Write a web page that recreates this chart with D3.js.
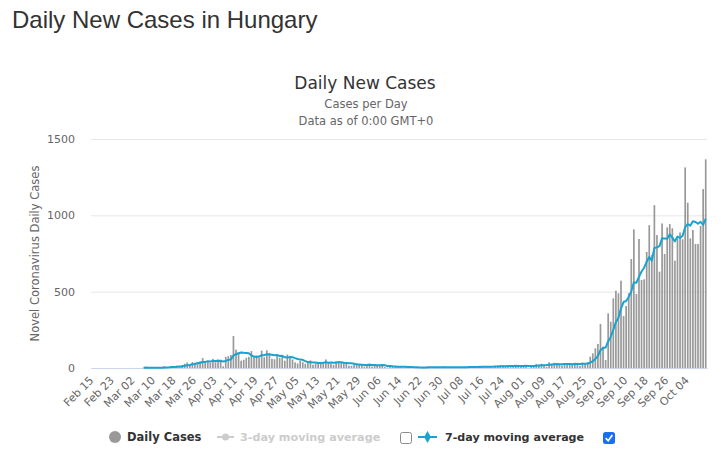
<!DOCTYPE html>
<html><head><meta charset="utf-8">
<script src="https://cdn.jsdelivr.net/npm/d3@7"></script>
<style>
html,body{margin:0;padding:0;background:#fff;}
svg{display:block;}
</style></head>
<body>
<svg id="chart" width="724" height="457"></svg>
<script>
// ---------- DATA ----------
const startDate = "2020-02-15";
const tickLabels = ["Feb 15","Feb 23","Mar 02","Mar 10","Mar 18","Mar 26","Apr 03","Apr 11","Apr 19","Apr 27",
  "May 05","May 13","May 21","May 29","Jun 06","Jun 14","Jun 22","Jun 30","Jul 08","Jul 16","Jul 24",
  "Aug 01","Aug 09","Aug 17","Aug 25","Sep 02","Sep 10","Sep 18","Sep 26","Oct 04"];
const yTicks = [0, 500, 1000, 1500];
// daily new cases, Feb 15 .. Oct 11 2020 (null = no data)
const dailyCases = [
  null,null,null,null,null,null,null,null,null,null,null,null,null,null,null,null,null,null,null,null,
  2,3,0,2,0,4,3,3,11,2,7,11,8,15,12,18,28,36,20,39,35,39,43,65,39,45,
  33,60,38,55,55,11,73,78,85,210,120,100,48,54,67,73,111,71,82,68,114,70,116,99,60,57,83,66,78,48,
  88,79,56,37,30,47,38,28,35,50,21,29,28,39,37,56,36,26,21,42,44,36,35,28,15,15,22,23,25,26,9,
  16,29,10,23,16,20,18,6,3,10,7,8,9,12,4,5,6,3,2,7,4,1,5,4,9,6,2,3,2,7,
  11,6,3,5,2,2,6,7,9,8,9,4,2,4,15,10,11,8,8,3,14,16,18,17,9,11,6,19,18,15,11,
  17,12,1,18,16,26,20,28,17,8,37,24,34,30,20,16,23,33,24,30,35,22,14,35,31,37,74,96,129,157,288,
  140,52,358,303,456,506,489,572,340,406,489,714,908,485,845,576,581,760,936,740,1067,871,631,947,747,921,943,915,703,849,888,
  843,1314,1083,849,904,812,812,930,1172,1367
];
const seriesNames = ["Daily Cases", "3-day moving average", "7-day moving average"];

// ---------- DERIVED: 7-day moving average of the daily values ----------
const movingAvg7 = dailyCases.map((v, i) => {
  if (v === null) return null;
  const w = dailyCases.slice(Math.max(0, i - 6), i + 1).filter(d => d !== null);
  return d3.mean(w);
});

// ---------- LAYOUT ----------
const svg = d3.select("#chart");
const plot = {left: 91, right: 707, top: 139, bottom: 368};
const chartFont = "'DejaVu Sans', 'Lucida Grande', Arial, sans-serif";
const barColor = "#999999";
const lineColor = "#18a3d0";

const parse = d3.timeParse("%Y-%m-%d");
const fmt = d3.timeFormat("%b %d");
const t0 = parse(startDate);
const categories = dailyCases.map((_, i) => fmt(d3.timeDay.offset(t0, i)));

const x = d3.scaleBand().domain(categories).range([plot.left, plot.right]).paddingInner(0.34).paddingOuter(0.17);
const y = d3.scaleLinear().domain([0, 1500]).range([plot.bottom, plot.top]);

// page title
svg.append("text").attr("x", 12).attr("y", 28)
  .attr("font-family", "'Liberation Sans', Arial, sans-serif").attr("font-size", 24)
  .attr("fill", "#333").text("Daily New Cases in Hungary");

// chart titles
svg.append("text").attr("x", 365).attr("y", 89).attr("text-anchor", "middle")
  .attr("font-family", chartFont).attr("font-size", 17).attr("fill", "#333").text("Daily New Cases");
svg.append("text").attr("x", 366).attr("y", 108).attr("text-anchor", "middle")
  .attr("font-family", chartFont).attr("font-size", 11.5).attr("fill", "#666").text("Cases per Day");
svg.append("text").attr("x", 366).attr("y", 125).attr("text-anchor", "middle")
  .attr("font-family", chartFont).attr("font-size", 11.5).attr("fill", "#666").text("Data as of 0:00 GMT+0");

// grid
const yAxis = d3.axisLeft(y).tickValues(yTicks).tickSize(-(plot.right - plot.left)).tickPadding(16).tickFormat(d3.format("d"));
const gy = svg.append("g").attr("transform", `translate(${plot.left},0)`).call(yAxis);
gy.select(".domain").remove();
gy.selectAll(".tick line").attr("stroke", "#e6e6e6").attr("stroke-width", 1);
gy.selectAll(".tick text").attr("font-family", chartFont).attr("font-size", 11).attr("fill", "#666").attr("dy", "0.32em");

// y axis title
svg.append("text").attr("transform", `translate(39,${(plot.top + plot.bottom) / 2}) rotate(-90)`)
  .attr("text-anchor", "middle").attr("font-family", chartFont).attr("font-size", 11.5)
  .attr("fill", "#666").text("Novel Coronavirus Daily Cases");

// bars
svg.append("g").selectAll("rect")
  .data(dailyCases.map((v, i) => ({c: categories[i], v})).filter(d => d.v !== null && d.v > 0))
  .join("rect")
  .attr("x", d => x(d.c)).attr("width", x.bandwidth())
  .attr("y", d => y(d.v)).attr("height", d => y(0) - y(d.v))
  .attr("fill", barColor);

// x axis
const xAxis = d3.axisBottom(x).tickValues(categories.filter(c => tickLabels.includes(c))).tickSize(0).tickPadding(0);
const gx = svg.append("g").attr("transform", `translate(0,${plot.bottom})`).call(xAxis);
gx.select(".domain").attr("stroke", "#ccd6eb");
gx.selectAll(".tick text").attr("font-family", chartFont).attr("font-size", 11).attr("fill", "#666")
  .attr("text-anchor", "end").attr("dy", 0)
  .attr("transform", "translate(2,13) rotate(-45)");

// 7-day moving average line
const line = d3.line().defined(d => d.v !== null)
  .x(d => x(d.c) + x.bandwidth() / 2).y(d => y(d.v)).curve(d3.curveLinear);
svg.append("path").datum(movingAvg7.map((v, i) => ({c: categories[i], v})))
  .attr("d", line).attr("fill", "none").attr("stroke", lineColor).attr("stroke-width", 2)
  .attr("stroke-linejoin", "round");

// legend
const lg = svg.append("g").attr("font-family", chartFont).attr("font-size", 11.5).attr("font-weight", "bold");
lg.append("circle").attr("cx", 115).attr("cy", 437).attr("r", 6).attr("fill", barColor);
lg.append("text").attr("x", 127).attr("y", 441).attr("fill", "#333").text(seriesNames[0]);
lg.append("line").attr("x1", 217).attr("x2", 234).attr("y1", 437).attr("y2", 437).attr("stroke", "#cccccc").attr("stroke-width", 2);
lg.append("circle").attr("cx", 225.5).attr("cy", 437).attr("r", 3.5).attr("fill", "#cccccc");
lg.append("text").attr("x", 240).attr("y", 441).attr("font-size", 11.2).attr("fill", "#cccccc").text(seriesNames[1]);
lg.append("rect").attr("x", 400.5).attr("y", 432.5).attr("width", 11).attr("height", 11).attr("rx", 2)
  .attr("fill", "#fff").attr("stroke", "#8a8a8a");
lg.append("line").attr("x1", 418).attr("x2", 437).attr("y1", 437).attr("y2", 437).attr("stroke", lineColor).attr("stroke-width", 2);
lg.append("path").attr("d", d3.symbol(d3.symbolDiamond, 40)()).attr("transform", "translate(427.5,437)").attr("fill", lineColor);
lg.append("text").attr("x", 445).attr("y", 441).attr("font-size", 11.1).attr("fill", "#333").text(seriesNames[2]);
lg.append("rect").attr("x", 603).attr("y", 432).attr("width", 12).attr("height", 12).attr("rx", 2.5).attr("fill", "#1a6ff0");
lg.append("path").attr("d", "M605.7,438.2 L608.2,440.8 L612.4,435").attr("fill", "none").attr("stroke", "#fff").attr("stroke-width", 1.7);
</script>
</body></html>
